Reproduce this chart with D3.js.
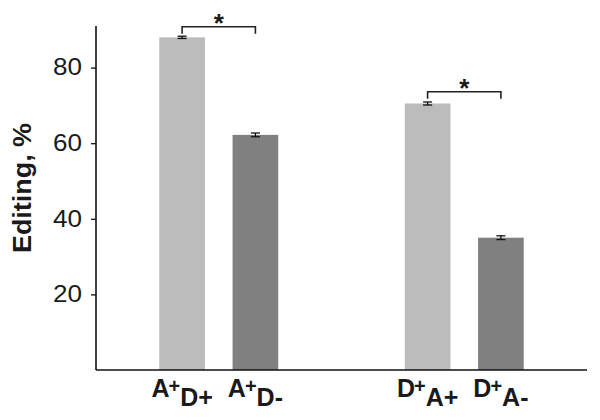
<!DOCTYPE html>
<html>
<head>
<meta charset="utf-8">
<script src="https://cdn.jsdelivr.net/npm/d3@7"></script>
<style>
  body { margin: 0; background: #fff; }
  text { font-family: "Liberation Sans", Arial, sans-serif; }
</style>
</head>
<body>
<svg id="chart" width="600" height="420"></svg>
<script>
// ---- data ----
const groups = ["A", "D"];
const categories = ["A+D+", "A+D-", "D+A+", "D+A-"];
const categoryGroup = ["A", "A", "D", "D"];
const categoryState = ["+", "-", "+", "-"];
const values = [88.0, 62.2, 70.5, 35.0];
const errors = [0.3, 0.5, 0.4, 0.5];
const yTicks = [20, 40, 60, 80];
const sigFrom = [0, 2];
const sigTo = [1, 3];
const sigLevel = [90.8, 73.6];
const sigLabel = ["*", "*"];
const yLabel = "Editing, %";

// ---- layout ----
const svg = d3.select("#chart");
const x0 = 96, x1 = 587, yTop = 26, yBottom = 370;

const y = d3.scaleLinear().domain([0, 91]).range([yBottom, yTop]);
const gx = d3.scaleBand().domain(groups).range([x0, x1]).padding(0);
const bx = d3.scaleBand().domain(["+", "-"]).range([0, gx.bandwidth()])
  .paddingInner(0.377).paddingOuter(0.863);
const colors = d3.scaleOrdinal().domain(["+", "-"]).range(["#bcbcbc", "#808080"]);

const barX = i => gx(categoryGroup[i]) + bx(categoryState[i]);
const barC = i => barX(i) + bx.bandwidth() / 2;

// bars
svg.append("g").selectAll("rect").data(values).join("rect")
  .attr("x", (d, i) => barX(i))
  .attr("y", d => y(d))
  .attr("width", bx.bandwidth())
  .attr("height", d => y(0) - y(d))
  .attr("fill", (d, i) => colors(categoryState[i]));

// error bars
const eg = svg.append("g").attr("stroke", "#111").attr("stroke-width", 1.3);
values.forEach((v, i) => {
  const cx = barC(i), hw = 4.5;
  eg.append("line").attr("x1", cx).attr("x2", cx).attr("y1", y(v + errors[i])).attr("y2", y(v - errors[i]));
  eg.append("line").attr("x1", cx - hw).attr("x2", cx + hw).attr("y1", y(v + errors[i])).attr("y2", y(v + errors[i]));
  eg.append("line").attr("x1", cx - hw).attr("x2", cx + hw).attr("y1", y(v - errors[i])).attr("y2", y(v - errors[i]));
});

// y axis
const yAxis = d3.axisLeft(y).tickValues(yTicks).tickSize(5).tickSizeOuter(0).tickPadding(9);
const ya = svg.append("g").attr("transform", `translate(${x0},0)`).call(yAxis);
ya.select(".domain").remove();
ya.selectAll(".tick line").attr("stroke", "#111").attr("stroke-width", 1.3);
ya.selectAll(".tick text").attr("font-size", 23).attr("fill", "#1a1a1a")
  .attr("font-family", "'Liberation Sans', Arial, sans-serif")
  .attr("textLength", 29).attr("lengthAdjust", "spacingAndGlyphs");
svg.append("line").attr("x1", x0).attr("x2", x0).attr("y1", y.range()[1]).attr("y2", yBottom)
  .attr("stroke", "#111").attr("stroke-width", 1.6);
// x axis
svg.append("line").attr("x1", x0).attr("x2", x1).attr("y1", yBottom).attr("y2", yBottom)
  .attr("stroke", "#111").attr("stroke-width", 1.6);

// x labels
categories.forEach((c, i) => {
  const t = svg.append("text")
    .attr("x", barC(i)).attr("y", 397)
    .attr("text-anchor", "middle")
    .attr("font-weight", "bold").attr("font-size", 25).attr("fill", "#1a1a1a");
  t.append("tspan").text(c[0]);
  t.append("tspan").attr("font-size", 20).attr("dy", -4).attr("dx", -1).text(c[1]);
  t.append("tspan").attr("dy", 13).text(c.slice(2));
});

// y label
svg.append("text")
  .attr("transform", `translate(31,188) rotate(-90)`)
  .attr("text-anchor", "middle")
  .attr("font-weight", "bold").attr("font-size", 25).attr("fill", "#1a1a1a")
  .attr("textLength", 130).attr("lengthAdjust", "spacingAndGlyphs")
  .text(yLabel);

// significance brackets
const sg = svg.append("g");
sigFrom.forEach((f, k) => {
  const xa = barC(f), xb = barC(sigTo[k]), yy = y(sigLevel[k]), leg = 7;
  sg.append("path")
    .attr("d", `M${xa},${yy + leg}V${yy}H${xb}V${yy + leg}`)
    .attr("fill", "none").attr("stroke", "#222").attr("stroke-width", 1.6);
  sg.append("text").attr("x", (xa + xb) / 2).attr("y", yy + 5)
    .attr("text-anchor", "middle").attr("font-weight", "bold").attr("font-size", 26)
    .attr("fill", "#1a1a1a").text(sigLabel[k]);
});
</script>
</body>
</html>
